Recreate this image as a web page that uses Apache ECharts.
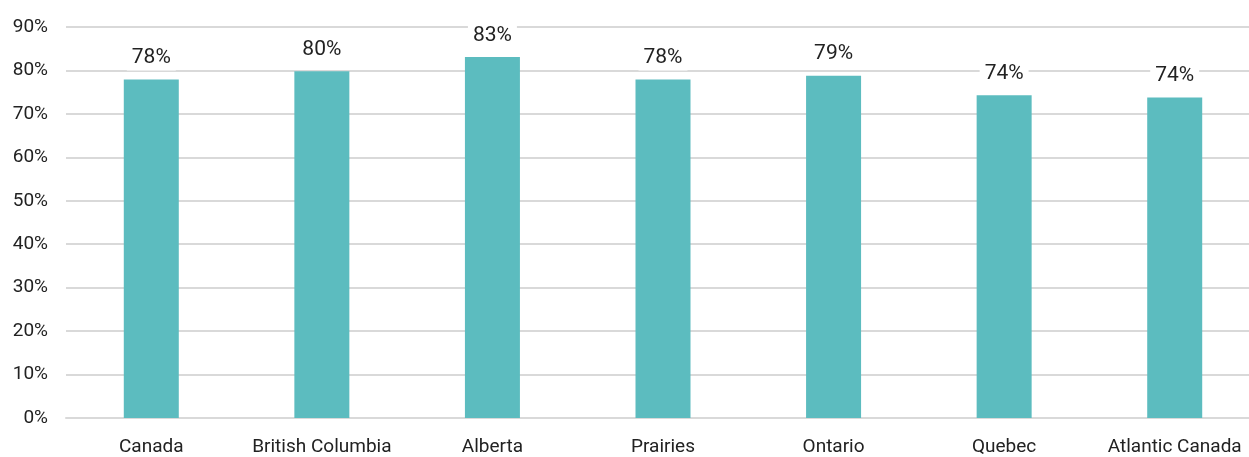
<!DOCTYPE html>
<html>
<head>
<meta charset="utf-8">
<script src="https://cdn.jsdelivr.net/npm/echarts@6/dist/echarts.min.js"></script>
<style>
  html, body { margin: 0; padding: 0; background: #fff; overflow: hidden; }
  /* plot area runs slightly past the right edge of the page */
  #chart { width: 1262px; height: 457px; }
</style>
</head>
<body>
<div id="chart"></div>
<script>
// Share by region (%)
const regions = ['Canada', 'British Columbia', 'Alberta', 'Prairies', 'Ontario', 'Quebec', 'Atlantic Canada'];
const shares = [77.9, 79.8, 83.1, 77.9, 78.8, 74.3, 73.8];
const yTicks = [0, 10, 20, 30, 40, 50, 60, 70, 80, 90];

const FONT = "'Roboto', sans-serif";

const chart = echarts.init(document.getElementById('chart'));
chart.setOption({
  animation: false,
  grid: { left: 66, top: 27, right: 2, bottom: 38, containLabel: false },
  xAxis: {
    type: 'category',
    data: regions,
    axisLine: { show: true, lineStyle: { color: '#d9d9d9', width: 2 } },
    axisTick: { show: false },
    axisLabel: { interval: 0, color: '#222', fontFamily: FONT, fontSize: 19, margin: 20 }
  },
  yAxis: {
    type: 'value',
    min: yTicks[0],
    max: yTicks[yTicks.length - 1],
    interval: 10,
    axisLine: { show: false },
    axisTick: { show: false },
    splitLine: { lineStyle: { color: '#d9d9d9', width: 2 } },
    axisLabel: { color: '#222', fontFamily: FONT, fontSize: 19, margin: 18, formatter: '{value}%' }
  },
  series: [{
    type: 'bar',
    data: shares,
    barWidth: 55,
    itemStyle: { color: '#5cbcbf' },
    label: {
      show: true,
      position: 'top',
      distance: 9,
      color: '#222',
      fontFamily: FONT,
      fontSize: 21,
      backgroundColor: '#fff',
      padding: [2, 5],
      formatter: p => Math.round(p.value) + '%'
    }
  }]
});
</script>
</body>
</html>
